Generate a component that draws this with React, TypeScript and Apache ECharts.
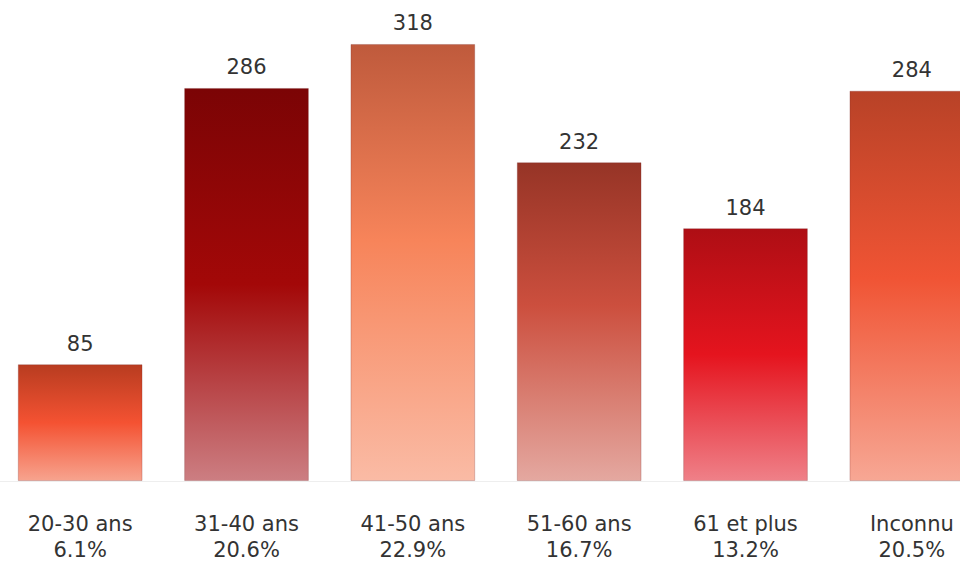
import React, { useEffect, useRef } from "react";
import * as echarts from "echarts";

const categories = ["20-30 ans", "31-40 ans", "41-50 ans", "51-60 ans", "61 et plus", "Inconnu"];
const percentLabels = ["6.1%", "20.6%", "22.9%", "16.7%", "13.2%", "20.5%"];
const values = [85, 286, 318, 232, 184, 284];
const gradients: [string, number, string, string][] = [
  ["#B83C20", 0.5, "#F45232", "#F7A38E"],
  ["#7B0405", 0.5, "#A30808", "#CC7E82"],
  ["#BF5A3C", 0.45, "#F7845A", "#FABBA5"],
  ["#963426", 0.45, "#CC4F3E", "#E4A8A0"],
  ["#AE0E14", 0.5, "#E5141E", "#EF8088"],
  ["#B84227", 0.48, "#F05434", "#F7A794"],
];

export default function App() {
  const ref = useRef<HTMLDivElement>(null);
  useEffect(() => {
    if (!ref.current) return;
    const chart = echarts.init(ref.current, undefined, { renderer: "svg" });
    const data = values.map((v, i) => {
      const g = gradients[i];
      return {
        value: v,
        itemStyle: {
          color: new echarts.graphic.LinearGradient(0, 0, 0, 1, [
            { offset: 0, color: g[0] },
            { offset: g[1], color: g[2] },
            { offset: 1, color: g[3] },
          ]),
          borderColor: "rgba(120,40,40,0.25)",
          borderWidth: 1,
        },
      };
    });
    chart.setOption({
      animation: false,
      backgroundColor: "#ffffff",
      grid: { left: 0, right: 0, top: 0, bottom: 82, containLabel: false },
      xAxis: {
        type: "category",
        data: categories.map((c, i) => c + "\n" + percentLabels[i]),
        axisLine: { show: true, lineStyle: { color: "#EEEEEE", width: 1 } },
        axisTick: { show: false },
        axisLabel: {
          color: "#333333",
          fontSize: 21,
          fontFamily: "DejaVu Sans",
          lineHeight: 26,
          margin: 30,
          interval: 0,
        },
      },
      yAxis: {
        type: "value",
        min: 0,
        max: 350,
        show: false,
        splitLine: { show: false },
      },
      series: [
        {
          type: "bar",
          data,
          barWidth: "75%",
          label: {
            show: true,
            position: "top",
            distance: 10,
            color: "#333333",
            fontSize: 21,
            fontFamily: "DejaVu Sans",
          },
        },
      ],
    });
    return () => chart.dispose();
  }, []);
  return (
    <div style={{ position: "fixed", left: 0, top: 0, width: 960, height: 563, overflow: "hidden", background: "#fff" }}>
      <div ref={ref} style={{ position: "absolute", left: -3, top: 0, width: 998, height: 563 }} />
    </div>
  );
}
